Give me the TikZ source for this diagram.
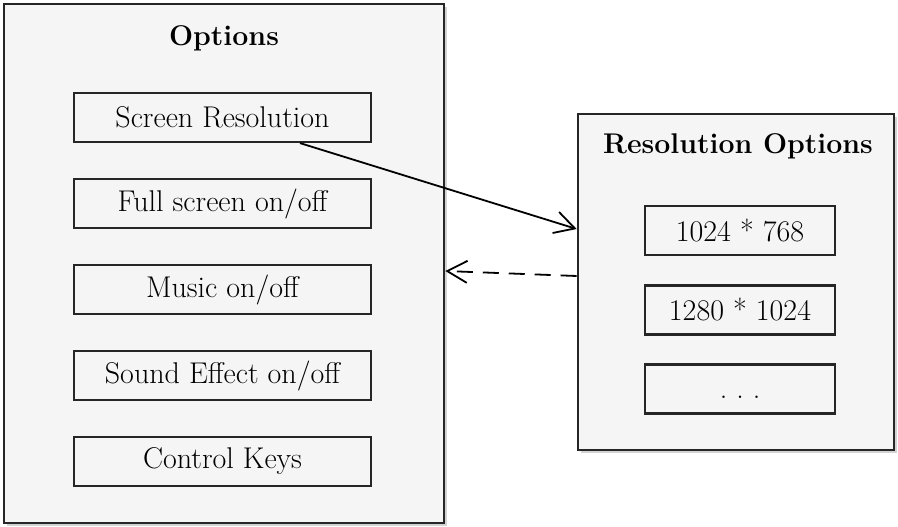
\documentclass[tikz,border=0pt]{standalone}
\usetikzlibrary{shadows,arrows.meta}
\begin{document}
\begin{tikzpicture}[x=1pt,y=-1pt,
  panel/.style={draw=black!85, line width=2.6pt, fill=black!4, inner sep=0pt,
    drop shadow={shadow xshift=3pt, shadow yshift=-3pt, opacity=0.35}},
  itembox/.style={draw=black!85, line width=2.2pt, inner sep=0pt,
    font=\fontsize{30}{34}\selectfont},
  ttl/.style={font=\fontsize{28.5}{32}\selectfont\bfseries},
  arr/.style={line width=1.8pt, -{Straight Barb[length=20pt,width=22pt,line width=1.8pt]}}
]
\useasboundingbox (0,0) rectangle (898,527);
\node[panel, minimum width=440pt, minimum height=519pt] (opt) at (224,263.5) {};
\node[panel, minimum width=316pt, minimum height=336pt] (res) at (736,282) {};
\node[ttl] (optt) at (224,38) {Options};
\node[ttl] (rest) at (738,146) {Resolution Options};
\foreach \n/\y/\t in {sr/117.5/{Screen Resolution}, fs/203.5/{Full screen on/off}, mu/289.5/{Music on/off}, se/375.5/{Sound Effect on/off}, ck/461.5/{Control Keys}}
  \node[itembox, minimum width=297pt, minimum height=49pt] (\n) at (222.5,\y) {\t};
\foreach \n/\y/\t in {ra/230.5/{1024 * 768}, rb/310/{1280 * 1024}, rc/389/{\vphantom{1}.\hspace{0.3em}.\hspace{0.3em}.}}
  \node[itembox, minimum width=190pt, minimum height=49pt] (\n) at (740,\y) {\t};
\draw[arr] ([xshift=77.5pt]sr.south) -- ([yshift=53pt]res.west);
\draw[arr, dashed, dash pattern=on 16pt off 10pt] ([yshift=6pt]res.west) -- ([yshift=-7.5pt]opt.east);
\end{tikzpicture}
\end{document}
